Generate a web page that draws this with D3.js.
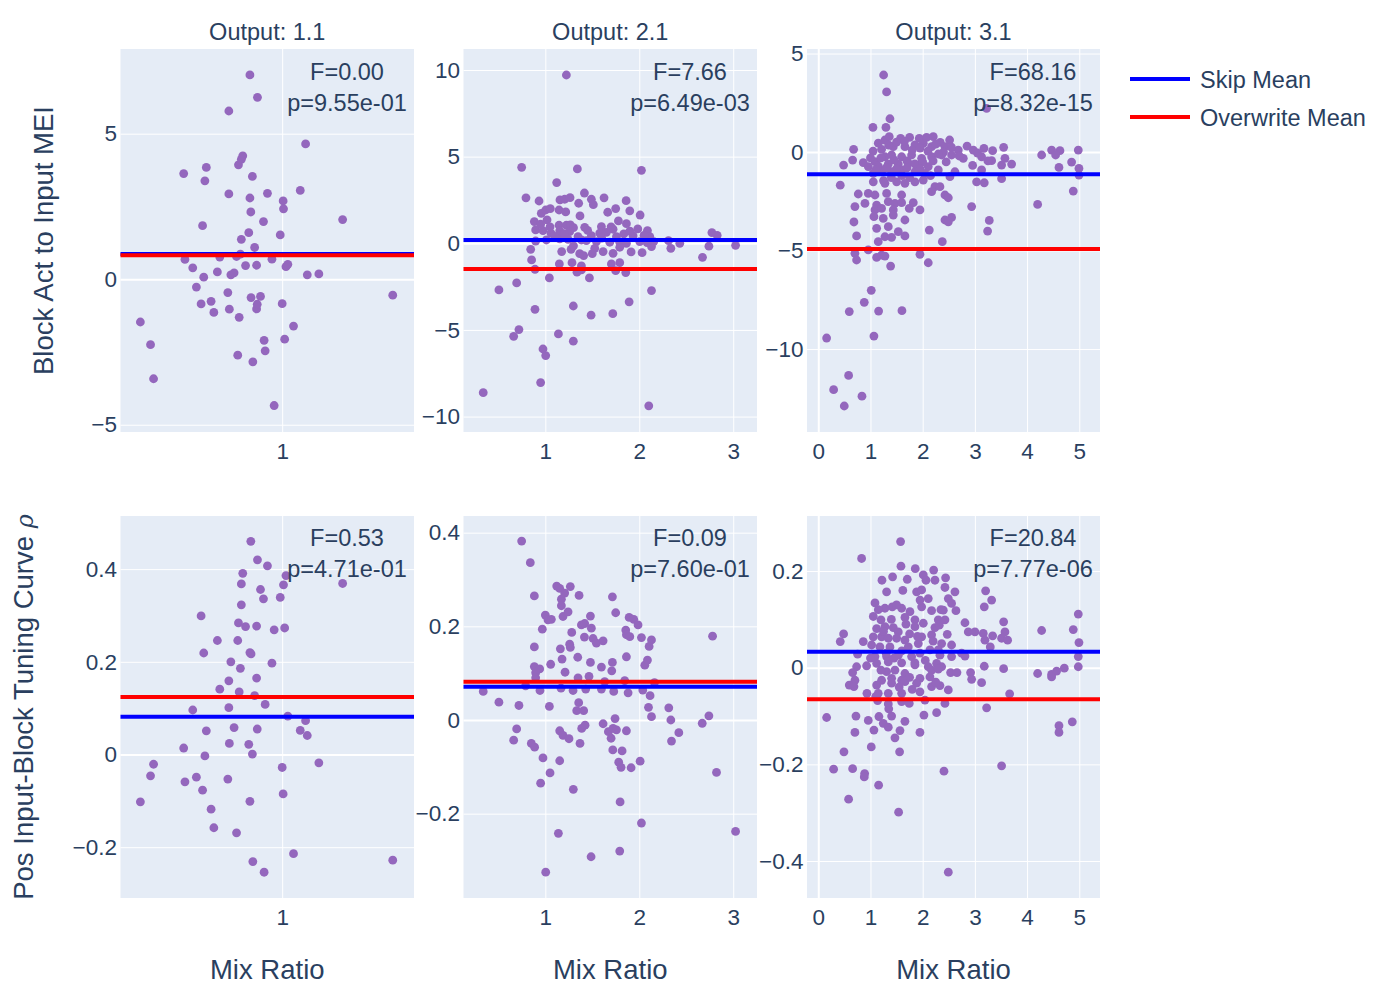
<!DOCTYPE html>
<html><head><meta charset="utf-8">
<script src="https://cdn.jsdelivr.net/npm/d3@7"></script>
<style>
body{margin:0;background:#fff;}
text{font-family:"Liberation Sans",Arial,sans-serif;fill:#2a3f5f;}
</style></head>
<body><svg id="chart" width="1400" height="1000"></svg>
<script>
// ---------------- DATA ----------------
const outputs = ["Output: 1.1", "Output: 2.1", "Output: 3.1"];
const rowTitles = ["Block Act to Input MEI", "Pos Input-Block Tuning Curve "];
const xTitle = "Mix Ratio";
const legendNames = ["Skip Mean", "Overwrite Mean"];

// column 1 (same samples in both rows)
const mix1 = [0.477,0.503,0.511,0.598,0.602,0.627,0.639,0.655,0.660,0.664,0.668,0.673,0.690,0.700,0.713,0.722,0.753,0.757,0.757,0.759,0.765,0.778,0.788,0.793,0.796,0.799,0.804,0.808,0.808,0.814,0.826,0.840,0.845,0.845,0.849,0.850,0.856,0.858,0.866,0.875,0.875,0.878,0.879,0.893,0.907,0.910,0.915,0.926,0.948,0.959,0.990,1.000,1.005,1.007,1.013,1.020,1.030,1.061,1.099,1.130,1.140,1.211,1.371,1.781];
const mei1 = [-1.47,-2.25,-3.42,3.63,0.68,0.39,-0.27,-0.85,1.84,0.07,3.38,3.84,-0.76,-1.14,0.25,0.76,-0.46,5.78,2.93,-1.03,0.15,0.22,0.78,-2.61,3.93,-1.31,0.86,1.37,4.12,4.24,0.47,1.60,7.02,2.79,2.31,-0.63,3.53,-2.84,1.09,0.48,-1.02,-0.86,6.25,-0.59,1.98,-2.10,-2.46,2.95,0.69,-4.34,1.52,-0.84,2.69,2.42,-2.06,0.43,0.51,-1.61,3.05,4.65,0.15,0.18,2.05,-0.55];
const tune1 = [-0.102,-0.046,-0.021,0.014,-0.059,0.096,-0.049,0.299,-0.077,0.219,-0.003,0.051,-0.118,-0.158,0.246,0.141,-0.053,0.159,0.101,0.024,0.200,0.058,-0.169,0.246,0.284,0.135,0.186,0.368,0.323,0.391,0.276,0.022,0.220,-0.101,0.460,0.217,0.001,-0.231,0.127,0.165,0.277,0.055,0.420,0.356,0.336,-0.254,0.108,0.407,0.197,0.269,0.339,-0.028,-0.085,0.366,0.273,0.386,0.083,-0.214,0.052,0.073,0.041,-0.018,0.369,-0.228];

// column 2
const mix2a = [1.224,0.748,1.341,2.023,1.121,0.794,0.933,1.416,1.490,1.511,1.625,1.860,1.156,1.206,1.263,1.355,0.957,1.004,1.053,1.146,1.217,1.369,1.664,1.749,1.899,2.009,0.883,1.018,1.146,1.224,1.266,1.419,1.597,1.721,1.778,1.863,1.984,2.087,0.897,0.975,1.060,1.153,1.259,1.348,1.490,1.579,1.650,1.757,1.835,1.934,2.112,2.154,2.311,2.431,2.773,2.829,0.897,1.011,1.153,1.242,1.384,1.437,1.544,1.686,1.792,1.863,2.005,2.083,0.844,1.174,1.274,1.366,1.408,1.526,1.615,1.721,1.792,1.913,2.030,2.130,2.336,2.741,3.025,0.854,1.149,1.284,1.384,1.703,1.792,2.673,0.890,1.337,1.384,1.749,1.856,1.043,1.469,0.506,0.695,2.130,0.890,1.298,1.487,1.718,1.892,0.663,0.719,1.139,1.298,0.975,1.004,0.950,0.339,2.101,
  1.05,1.10,1.30,1.45,1.60,1.70,1.30,1.50,1.90,2.05,0.95,1.20];
const mei2 = [9.71,4.38,4.29,4.21,3.50,2.62,2.44,2.90,2.54,2.23,2.62,2.46,2.50,2.54,2.63,2.31,1.73,1.92,2.00,1.92,1.81,1.58,1.79,2.00,1.87,1.63,1.25,1.35,1.04,1.04,1.06,0.92,0.96,0.81,1.29,1.13,0.83,0.73,0.77,0.73,0.58,0.71,0.67,0.38,0.44,0.58,0.63,0.38,0.54,0.44,0.38,0.10,0.15,0.00,0.62,0.46,0.13,0.19,0.25,0.23,0.19,0.15,0.10,0.06,0.06,0.00,0.10,0.04,-0.35,-0.48,-0.35,-0.60,-0.71,-0.29,-0.48,-0.58,-0.23,-0.50,-0.54,-0.19,-0.29,-0.17,-0.12,-0.96,-1.19,-1.12,-1.31,-1.19,-1.12,-0.81,-1.50,-1.67,-1.54,-1.58,-1.69,-2.00,-2.00,-2.69,-2.29,-2.73,-3.81,-3.62,-4.15,-4.06,-3.38,-5.37,-4.98,-5.23,-5.65,-6.10,-6.48,-8.04,-8.62,-9.38,
  0.95,0.40,0.90,0.75,0.30,0.95,-0.15,-0.60,0.70,0.45,1.10,0.55];
const mix2b = [0.748,0.840,0.883,1.121,1.153,1.266,1.206,1.171,1.171,1.359,1.714,1.000,1.028,1.064,1.188,1.242,1.480,1.749,1.892,1.941,1.987,0.968,1.384,1.419,1.490,1.856,1.863,1.899,2.023,2.130,2.780,1.281,1.416,1.508,1.544,1.615,0.883,1.160,1.259,1.266,2.105,1.178,1.345,1.480,1.597,1.714,1.707,1.863,2.059,2.087,0.883,0.940,0.897,1.057,1.210,0.897,1.348,1.465,1.632,1.845,2.162,0.790,0.943,1.167,1.295,1.430,1.597,1.728,1.881,2.037,2.115,0.339,0.506,0.719,1.043,1.355,1.334,1.408,2.098,2.314,2.130,2.336,2.741,2.670,2.421,2.343,0.695,0.663,1.153,1.188,1.252,1.387,1.423,1.369,1.615,1.742,1.671,1.721,1.757,1.700,1.863,0.851,0.886,0.975,1.153,1.718,1.817,1.781,1.806,1.913,2.009,1.050,0.950,1.298,2.822,1.796,2.023,3.025,1.139,1.792,1.487,1.004];
const tune2 = [0.382,0.336,0.265,0.286,0.281,0.285,0.271,0.258,0.244,0.266,0.263,0.224,0.214,0.215,0.221,0.231,0.222,0.229,0.219,0.215,0.203,0.194,0.203,0.206,0.196,0.192,0.182,0.178,0.176,0.171,0.179,0.187,0.177,0.174,0.164,0.169,0.156,0.152,0.162,0.155,0.157,0.130,0.134,0.123,0.113,0.123,0.105,0.135,0.117,0.128,0.114,0.109,0.101,0.119,0.102,0.090,0.090,0.093,0.082,0.084,0.080,0.073,0.063,0.068,0.063,0.066,0.066,0.061,0.058,0.064,0.052,0.061,0.038,0.031,0.029,0.037,0.020,0.020,0.027,0.026,0.007,0.000,0.009,-0.007,-0.027,-0.045,-0.019,-0.043,-0.023,-0.033,-0.040,-0.018,-0.011,-0.050,-0.008,0.003,-0.025,-0.018,-0.021,-0.039,-0.023,-0.050,-0.058,-0.081,-0.087,-0.064,-0.066,-0.090,-0.101,-0.102,-0.088,-0.113,-0.135,-0.148,-0.112,-0.175,-0.220,-0.238,-0.242,-0.280,-0.292,-0.325];

// column 3
const mix3a = [1.252,1.309,3.225,1.373,1.047,1.296,1.277,1.360,1.577,1.750,1.935,2.075,2.203,2.337,2.516,0.677,1.213,1.437,1.660,1.852,2.012,2.171,2.427,2.682,2.970,3.174,3.340,3.551,4.470,4.630,4.981,4.279,4.547,0.658,0.485,0.862,1.086,1.277,1.405,1.597,1.788,1.980,2.171,2.363,2.554,2.778,3.129,3.321,3.576,3.704,3.512,4.853,4.611,4.994,0.958,1.149,1.341,1.533,1.724,1.916,2.107,2.299,2.618,2.957,3.129,4.994,1.054,1.213,1.405,1.597,1.852,2.043,2.522,0.421,1.054,1.277,1.501,1.660,1.852,2.012,2.235,2.331,3.033,3.180,3.512,4.885,0.766,0.958,1.086,1.309,1.597,2.171,2.427,2.491,0.894,0.702,1.118,1.341,1.469,1.597,1.820,2.938,4.202,1.086,1.213,1.437,1.743,1.948,0.683,1.066,1.245,1.437,1.660,2.427,2.554,2.491,3.276,1.118,1.341,2.127,3.244,0.734,1.277,1.533,1.660,1.149,2.376,1.405,0.958,0.702,1.213,1.118,0.734,1.277,1.948,2.107,1.386,1.015,0.881,0.594,1.156,1.603,0.160,1.066,0.581,0.294,0.837,0.498,
  1.15,1.35,1.50,1.65,1.80,1.95,2.10,2.25,2.40,2.55,1.20,1.45,1.70,1.85,2.00,2.20,2.45,1.10,1.30,1.50,1.70,1.95,2.15,1.40,1.60,1.25,1.75,2.30,1.05,2.70,2.85,3.05,3.25,1.00];
const mei3 = [3.91,3.05,2.22,1.69,1.25,1.25,0.61,0.78,0.69,0.74,0.69,0.74,0.78,0.49,0.61,0.14,0.14,0.27,0.27,0.36,0.44,0.27,0.27,0.10,0.10,0.19,0.07,0.24,0.10,0.07,0.10,-0.15,-0.15,-0.41,-0.66,-0.54,-0.49,-0.24,-0.15,-0.24,-0.15,-0.32,-0.24,-0.15,-0.15,-0.32,-0.24,-0.44,-0.32,-0.61,-0.66,-0.51,-0.78,-0.83,-0.74,-0.71,-0.61,-0.61,-0.58,-0.66,-0.74,-0.91,-1.00,-0.68,-0.91,-1.17,-1.08,-1.00,-1.00,-0.91,-1.00,-1.08,-1.25,-1.68,-1.51,-1.59,-1.51,-1.59,-1.51,-1.42,-1.76,-1.76,-1.51,-1.56,-1.35,-1.98,-2.13,-2.10,-2.18,-2.10,-2.18,-2.01,-2.18,-2.32,-2.61,-2.77,-2.69,-2.52,-2.61,-2.57,-2.57,-2.77,-2.66,-2.94,-2.86,-2.94,-2.86,-2.94,-3.55,-3.28,-3.37,-3.20,-3.45,-3.45,-3.32,-3.54,-3.47,-3.87,-3.79,-3.96,-4.01,-4.26,-4.30,-4.04,-4.26,-4.55,-4.55,-4.33,-4.97,-5.14,-5.23,-5.35,-5.48,-5.28,-5.19,-5.62,-5.79,-7.02,-7.63,-8.10,-8.07,-8.05,-9.44,-9.34,-11.34,-12.06,-12.39,-12.89,
  0.45,0.35,0.50,0.55,0.10,0.20,0.05,0.40,0.00,0.25,-0.30,-0.40,-0.45,-0.60,-0.50,-0.45,-0.50,-0.90,-0.80,-0.85,-0.80,-0.85,-1.20,-1.30,-1.20,-1.45,-1.30,-0.10,0.05,-0.20,0.30,-0.05,-0.45,-0.30];
const mix3b = [1.577,0.830,1.584,1.858,2.210,1.424,1.220,1.705,2.012,2.063,2.235,2.439,2.427,1.309,1.884,1.980,2.618,2.107,2.491,3.206,3.321,3.180,1.086,1.277,1.418,1.597,1.756,1.980,2.171,2.395,2.554,2.637,1.054,1.201,1.660,1.852,2.012,2.299,2.427,2.810,3.551,4.981,1.118,1.277,1.437,1.533,1.852,2.235,2.318,2.874,3.001,3.161,3.340,3.576,4.279,4.885,0.485,0.421,0.862,1.054,1.213,1.341,1.501,1.660,1.980,2.171,2.363,2.471,2.554,3.193,3.295,3.512,3.627,4.994,1.022,1.181,1.373,1.724,1.916,2.139,2.299,2.746,2.810,0.754,1.086,1.309,1.533,1.788,1.948,2.331,2.554,0.926,1.118,1.341,1.597,1.852,2.107,2.267,2.363,4.981,4.981,0.734,0.658,1.309,1.469,1.660,2.171,2.299,2.535,2.657,2.918,3.180,3.551,4.202,4.470,4.566,4.713,0.702,1.213,1.405,1.597,1.948,2.139,2.938,3.129,4.470,0.594,0.683,1.118,1.405,1.660,1.884,2.171,2.331,2.491,0.932,1.149,1.341,1.597,1.948,3.666,1.137,1.341,1.597,1.743,2.043,2.427,0.160,0.722,0.958,1.162,1.405,1.660,2.024,2.267,3.225,1.245,1.341,1.066,1.565,0.702,1.948,1.469,4.611,4.611,4.866,1.015,0.492,1.558,0.294,0.658,0.888,0.881,2.408,3.512,1.156,0.581,1.539,2.491,
  1.15,1.40,1.50,1.75,1.30,1.45,1.60,1.90,2.05,1.20,1.55,1.75,1.85,2.20,1.00,1.25,1.68,2.35,1.10,1.80,2.25,1.35,1.62,1.95];
const tune3 = [0.261,0.226,0.210,0.205,0.202,0.188,0.181,0.183,0.192,0.181,0.181,0.186,0.166,0.157,0.157,0.161,0.157,0.143,0.143,0.159,0.140,0.126,0.134,0.123,0.126,0.123,0.116,0.126,0.118,0.119,0.133,0.118,0.106,0.099,0.104,0.099,0.092,0.099,0.099,0.093,0.095,0.111,0.081,0.085,0.083,0.074,0.085,0.083,0.088,0.074,0.074,0.071,0.066,0.074,0.077,0.079,0.070,0.054,0.054,0.064,0.064,0.061,0.061,0.057,0.064,0.068,0.050,0.069,0.047,0.057,0.043,0.061,0.057,0.052,0.047,0.043,0.043,0.043,0.050,0.037,0.037,0.030,0.024,0.028,0.023,0.023,0.026,0.023,0.030,0.026,0.023,0.004,0.009,0.012,0.010,0.006,0.002,0.009,0.002,0.023,0.002,0.002,-0.010,-0.008,-0.005,-0.012,-0.005,-0.003,-0.010,-0.010,-0.010,0.003,-0.002,-0.012,-0.014,-0.007,-0.001,-0.026,-0.026,-0.022,-0.026,-0.022,-0.019,-0.024,-0.031,-0.019,-0.036,-0.039,-0.036,-0.032,-0.029,-0.032,-0.039,-0.037,-0.046,-0.053,-0.053,-0.053,-0.053,-0.050,-0.054,-0.068,-0.075,-0.070,-0.074,-0.067,-0.074,-0.103,-0.100,-0.109,-0.101,-0.100,-0.111,-0.098,-0.093,-0.083,-0.115,-0.123,-0.129,-0.130,-0.134,-0.134,-0.145,-0.120,-0.134,-0.112,-0.164,-0.174,-0.174,-0.210,-0.209,-0.219,-0.226,-0.214,-0.203,-0.243,-0.272,-0.299,-0.423,
  0.12,0.10,0.13,0.07,0.03,0.02,0.035,0.065,0.015,-0.005,-0.04,-0.02,0.01,0.055,0.02,0.075,0.09,0.12,-0.06,-0.045,-0.03,-0.085,0.16,0.14];

// means per row, per column
const skipMean = [[0.87, 0.19, -1.13], [0.0816, 0.0712, 0.0331]];
const overwriteMean = [[0.825, -1.48, -4.92], [0.124, 0.0819, -0.0655]];
// F statistic and p value labels
const fLabels = [["F=0.00","F=7.66","F=68.16"],["F=0.53","F=0.09","F=20.84"]];
const pLabels = [["p=9.55e-01","p=6.49e-03","p=8.32e-15"],["p=4.71e-01","p=7.60e-01","p=7.77e-06"]];

// axis settings (tick values / ranges)
const xDomains = [[0.43, 1.99], [0.129, 3.253], [-0.216, 5.397]];
const xTickVals = [[1], [1, 2, 3], [0, 1, 2, 3, 4, 5]];
const yDomains = [[[-5.25, 7.91], [-10.89, 11.21], [-14.21, 5.23]],
                  [[-0.3096, 0.5146], [-0.3801, 0.4356], [-0.4765, 0.3139]]];
const yTickVals = [[[-5, 0, 5], [-10, -5, 0, 5, 10], [-10, -5, 0, 5]],
                   [[-0.2, 0, 0.2, 0.4], [-0.2, 0, 0.2, 0.4], [-0.4, -0.2, 0, 0.2]]];

const seriesX = [[mix1, mix2a, mix3a], [mix1, mix2b, mix3b]];
const seriesY = [[mei1, mei2, mei3], [tune1, tune2, tune3]];

// ---------------- LAYOUT ----------------
const colPx = [[120.5, 414], [463.5, 757], [807, 1100]];
const rowPx = [[49, 432], [516, 898]];
const C = {bg:"#E5ECF6", grid:"#ffffff", text:"#2a3f5f", dot:"#9467bd", skip:"#0000ff", over:"#ff0000"};
const FS = {tick:22.5, title:23.5, ann:23.5, legend:23.5, axis:27.5};

const svg = d3.select("#chart");
const fmt = v => (v < 0 ? "\u2212" + Math.abs(v) : String(v));
const defs = svg.append("defs");

for (let r = 0; r < 2; r++) {
  for (let c = 0; c < 3; c++) {
    const [x0, x1] = colPx[c], [y0, y1] = rowPx[r];
    const w = x1 - x0, h = y1 - y0;
    const xs = (c === 0 ? d3.scaleLog() : d3.scaleLinear()).domain(xDomains[c]).range([0, w]);
    const ys = d3.scaleLinear().domain(yDomains[r][c]).range([h, 0]);
    const g = svg.append("g").attr("transform", `translate(${x0},${y0})`);
    const cid = `clip${r}${c}`;
    defs.append("clipPath").attr("id", cid).append("rect").attr("width", w).attr("height", h);

    g.append("rect").attr("width", w).attr("height", h).attr("fill", C.bg);

    // x grid + tick labels
    const xa = g.append("g").attr("transform", `translate(0,${h})`)
      .call(d3.axisBottom(xs).tickValues(xTickVals[c]).tickFormat(fmt).tickSize(-h).tickPadding(11));
    // y grid + tick labels
    const ya = g.append("g")
      .call(d3.axisLeft(ys).tickValues(yTickVals[r][c]).tickFormat(fmt).tickSize(-w).tickPadding(3.5));
    [xa, ya].forEach(a => {
      a.select(".domain").remove();
      a.selectAll(".tick line").attr("stroke", C.grid).attr("stroke-width", d => d === 0 ? 2 : 1);
      a.selectAll(".tick text").attr("fill", C.text).style("font-size", FS.tick + "px")
        .style("font-family", '"Liberation Sans", Arial, sans-serif');
    });

    // points
    const X = seriesX[r][c], Y = seriesY[r][c];
    g.append("g").attr("clip-path", `url(#${cid})`)
      .selectAll("circle").data(d3.range(Math.min(X.length, Y.length))).join("circle")
      .attr("cx", i => xs(X[i])).attr("cy", i => ys(Y[i])).attr("r", 4.4)
      .attr("fill", C.dot);

    // mean lines
    [[skipMean, C.skip], [overwriteMean, C.over]].forEach(([m, col]) => {
      g.append("line").attr("x1", 0).attr("x2", w)
        .attr("y1", ys(m[r][c])).attr("y2", ys(m[r][c]))
        .attr("stroke", col).attr("stroke-width", 4);
    });

    // annotation
    const ax = w - 67;
    const baseF = r === 0 ? 31 : 30;
    g.append("text").attr("x", ax).attr("y", baseF).attr("text-anchor", "middle")
      .style("font-size", FS.ann + "px").text(fLabels[r][c]);
    g.append("text").attr("x", ax).attr("y", baseF + 31).attr("text-anchor", "middle")
      .style("font-size", FS.ann + "px").text(pLabels[r][c]);

    // column titles
    if (r === 0) {
      svg.append("text").attr("x", (x0 + x1) / 2).attr("y", 40).attr("text-anchor", "middle")
        .style("font-size", FS.title + "px").text(outputs[c]);
    } else {
      svg.append("text").attr("x", (x0 + x1) / 2).attr("y", 979).attr("text-anchor", "middle")
        .style("font-size", FS.axis + "px").text(xTitle);
    }
  }
}

// row (y axis) titles
const yt1 = svg.append("text").attr("transform", `translate(52.5,${(rowPx[0][0] + rowPx[0][1]) / 2}) rotate(-90)`)
  .attr("text-anchor", "middle").style("font-size", FS.axis + "px").text(rowTitles[0]);
const yt2 = svg.append("text").attr("transform", `translate(33,${(rowPx[1][0] + rowPx[1][1]) / 2}) rotate(-90)`)
  .attr("text-anchor", "middle").style("font-size", FS.axis + "px");
yt2.append("tspan").text(rowTitles[1]);
yt2.append("tspan").style("font-style", "italic").style("font-family", '"DejaVu Serif", serif')
  .style("font-size", "24px").text("\u03C1");

// legend
const legY = [79, 117];
[C.skip, C.over].forEach((col, i) => {
  svg.append("line").attr("x1", 1130).attr("x2", 1190).attr("y1", legY[i]).attr("y2", legY[i])
    .attr("stroke", col).attr("stroke-width", 4);
  svg.append("text").attr("x", 1200).attr("y", legY[i] + 8.5)
    .style("font-size", FS.legend + "px").text(legendNames[i]);
});
</script>
</body></html>
